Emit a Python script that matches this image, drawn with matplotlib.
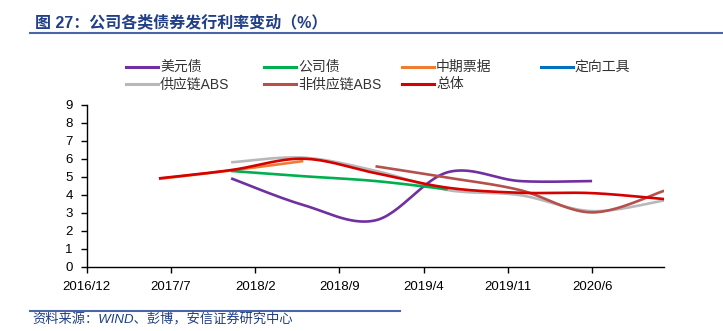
import numpy as np
import matplotlib
matplotlib.use("Agg")
import matplotlib.pyplot as plt
from matplotlib.lines import Line2D

plt.rcParams['font.family'] = ['Liberation Sans', 'Noto Sans CJK SC', 'DejaVu Sans']

# months counted from 2016/12
months = [6, 12, 18, 24, 30, 36, 42, 48]
tick_months = [0, 7, 14, 21, 28, 35, 42]
tick_labels = ['2016/12', '2017/7', '2018/2', '2018/9', '2019/4', '2019/11', '2020/6']

names = ['美元债', '公司债', '中期票据', '定向工具', '供应链ABS', '非供应链ABS', '总体']
usd_bond = [None, 4.91, 3.43, 2.58, 5.25, 4.76, 4.76, None]
corp_bond = [None, 5.32, 5.03, 4.76, 4.30, None, None, None]
mtn = [4.88, 5.35, 5.87, None, None, None, None, None]
ppn = [None] * 8
sc_abs = [None, 5.80, 6.06, 5.33, 4.26, 3.98, 3.09, 3.69]
nonsc_abs = [None, None, None, 5.58, 4.95, 4.26, 3.02, 4.22]
total = [4.91, 5.37, 6.00, 5.20, 4.39, 4.11, 4.09, 3.76]

series = [usd_bond, corp_bond, mtn, ppn, sc_abs, nonsc_abs, total]
colors = ['#7030A0', '#00B050', '#ED7D31', '#0070C0', '#B8B8B8', '#B5504B', '#D60000']
zorder = [3, 3, 2, 2, 2, 3, 4]


def smooth(xs, ys, n=30):
    xs = np.asarray(xs, float)
    ys = np.asarray(ys, float)
    if len(xs) < 2:
        return xs, ys
    P = np.column_stack([xs, ys])
    out = []
    for i in range(len(P) - 1):
        p0 = P[i - 1] if i > 0 else P[i]
        p1 = P[i]
        p2 = P[i + 1]
        p3 = P[i + 2] if i + 2 < len(P) else P[i + 1]
        c1 = p1 + (p2 - p0) / 6.0
        c2 = p2 - (p3 - p1) / 6.0
        t = np.linspace(0, 1, n)[:, None]
        seg = ((1 - t) ** 3) * p1 + 3 * ((1 - t) ** 2) * t * c1 + 3 * (1 - t) * t ** 2 * c2 + t ** 3 * p2
        out.append(seg if i == 0 else seg[1:])
    out = np.vstack(out)
    return out[:, 0], out[:, 1]


W, H = 723, 331
fig = plt.figure(figsize=(W / 100, H / 100), dpi=100)
ax = fig.add_axes([0.12, 0.194, 0.7988, 0.4897])

for vals, c, z in zip(series, colors, zorder):
    xs = [m for m, v in zip(months, vals) if v is not None]
    ys = [v for v in vals if v is not None]
    if len(xs) >= 2:
        sx, sy = smooth(xs, ys)
        ax.plot(sx, sy, color=c, lw=1.9, zorder=z, solid_capstyle='butt')

ax.set_xlim(0, 48)
ax.set_ylim(0, 9)
ax.set_yticks(range(0, 10))
ax.set_xticks(tick_months)
ax.set_xticklabels(tick_labels)
for s in ['top', 'right']:
    ax.spines[s].set_visible(False)
for s in ['left', 'bottom']:
    ax.spines[s].set_linewidth(1.0)
    ax.spines[s].set_color('black')
ax.tick_params(axis='both', direction='out', length=4, width=1, labelsize=9.5, colors='black')
ax.tick_params(axis='x', pad=6)
ax.tick_params(axis='y', pad=6)

# legend, drawn row by row in 4 equal columns
col_x = [126, 264, 402, 541]
row_y = [66.7, 84.3]
for i, (name, c) in enumerate(zip(names, colors)):
    r, k = divmod(i, 4)
    x0 = col_x[k]
    y0 = row_y[r]
    fig.add_artist(Line2D([x0 / W, (x0 + 32) / W], [1 - y0 / H, 1 - y0 / H], color=c, lw=2.2))
    fig.text((x0 + 34) / W, 1 - y0 / H, name, fontsize=10, color='#333333', ha='left', va='center')

title_color = '#203F87'
fig.text(0.048, 0.934, '图 27：公司各类债券发行利率变动（%）', fontsize=11.5, fontweight='bold',
         color=title_color, ha='left', va='center')
fig.add_artist(Line2D([0.041, 1.0], [0.9, 0.9], color='#4A66A8', lw=1.5))
fig.add_artist(Line2D([0.041, 0.553], [0.06, 0.06], color='#4A66A8', lw=1.5))
fig.text(0.045, 0.032, '资料来源：WIND、彭博，安信证券研究中心', fontsize=9.5, color=title_color,
         ha='left', va='center', style='italic')

fig.savefig('out.png', dpi=100)
